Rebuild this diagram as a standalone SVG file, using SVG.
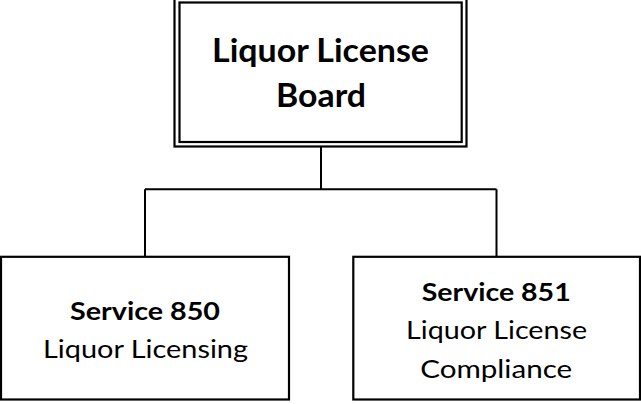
<svg xmlns="http://www.w3.org/2000/svg" width="641" height="404" viewBox="0 0 641 404">
<style>
.box{fill:#fff;stroke:#000;stroke-width:2.2}
.line{fill:none;stroke:#000;stroke-width:2}
text{font-family:Lato,"Open Sans","Liberation Sans",sans-serif;fill:#000;text-anchor:middle}
.title{font-size:32px;font-weight:bold}
.b{font-size:25px;font-weight:bold}
.r{font-size:25px}
</style>
<rect width="641" height="404" fill="#fff"/>
<g id="connectors">
<path class="line" d="M321 146.5V189.2"/>
<path class="line" d="M145 189.2H496.5"/>
<path class="line" d="M145 189.2V256.8M496.5 189.2V256.8"/>
</g>
<g id="board">
<rect class="box" x="174.5" y="-2.5" width="292" height="149"/>
<rect class="box" x="179.5" y="2.5" width="282.2" height="139.5"/>
<text class="title" x="320.5" y="61.7" textLength="217" lengthAdjust="spacingAndGlyphs">Liquor License</text>
<text class="title" x="321" y="106.7" textLength="90" lengthAdjust="spacingAndGlyphs">Board</text>
</g>
<g id="service850">
<rect class="box" x="1" y="256.8" width="288" height="142.7"/>
<text class="b" x="145" y="320" textLength="150" lengthAdjust="spacingAndGlyphs">Service 850</text>
<text class="r" x="145.5" y="358.3" textLength="205" lengthAdjust="spacingAndGlyphs">Liquor Licensing</text>
</g>
<g id="service851">
<rect class="box" x="353.3" y="256.8" width="286.7" height="142.7"/>
<text class="b" x="496.2" y="300.7" textLength="149" lengthAdjust="spacingAndGlyphs">Service 851</text>
<text class="r" x="496.6" y="339.3" textLength="181" lengthAdjust="spacingAndGlyphs">Liquor License</text>
<text class="r" x="496.2" y="378.3" textLength="152" lengthAdjust="spacingAndGlyphs">Compliance</text>
</g>
</svg>
